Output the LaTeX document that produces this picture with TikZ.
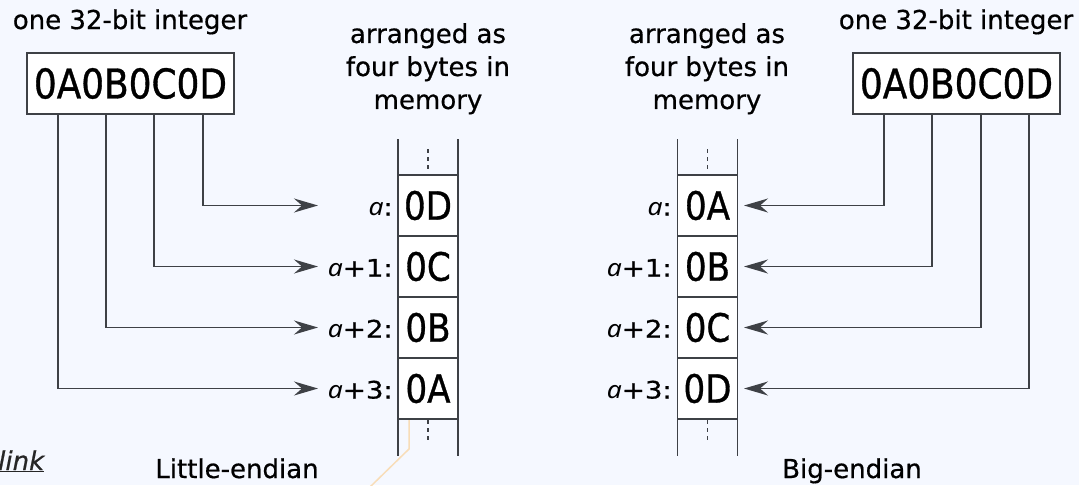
\documentclass[tikz,border=0pt]{standalone}
\usepackage{fontspec}
\setmainfont{DejaVu Sans}[FakeBold=0.6]
\newfontfamily\hexfont{DejaVu Sans}[FakeStretch=0.875, FakeBold=0.8]
\newfontfamily\labfont{DejaVu Sans}[FakeStretch=1.15, FakeBold=0.6]
\newfontfamily\afont{Noto Sans}[UprightFont=* Italic, FakeStretch=1.1]
\usetikzlibrary{arrows.meta}
\definecolor{bg}{HTML}{F5F8FF}
\definecolor{ln}{HTML}{3E4146}
\definecolor{org}{HTML}{F8DDB8}
\newcommand{\va}{{\afont a}}
\begin{document}
\begin{tikzpicture}[x=1pt,y=-1pt,
  txt/.style={font=\fontsize{26}{33}\selectfont, align=center, inner sep=0},
  hexbox/.style={draw=ln, line width=1.8pt, fill=white, font=\hexfont\fontsize{41}{41}\selectfont, minimum width=207pt, minimum height=61pt, inner sep=0},
  cell/.style={draw=ln, line width=1.8pt, fill=white, font=\hexfont\fontsize{39}{39}\selectfont, minimum width=60pt, minimum height=61pt, inner sep=0, outer sep=0},
  lab/.style={font=\labfont\fontsize{24}{24}\selectfont, anchor=base east, inner sep=0},
  wire/.style={draw=ln, line width=1.8pt},
  dots/.style={draw=ln, line width=1.3pt, dash pattern=on 4pt off 4pt},
  arr/.style={wire, -{Stealth[length=24pt,width=14pt,inset=8pt]}}
]
\useasboundingbox (0,0) rectangle (1079,485);
\fill[bg] (0,0) rectangle (1079,485);
\clip (0,0) rectangle (1079,485);

% ---------- texts
\node[txt, anchor=base] (intL) at (130,29) {one 32-bit integer};
\node[txt, anchor=base] (intR) at (956,29) {one 32-bit integer};
\node[txt, anchor=north] (memL) at (428,23) {arranged as\\four bytes in\\memory};
\node[txt, anchor=north] (memR) at (707,23) {arranged as\\four bytes in\\memory};
\node[txt, anchor=base] (little) at (237,478) {Little-endian};
\node[txt, anchor=base] (big) at (852,478) {Big-endian};
\node[font=\itshape\fontsize{26}{26}\selectfont, anchor=base west, inner sep=0, text=black!85] (link) at (-2,470) {\underline{link}};

% ---------- orange stray line
\draw[org, line width=1.5pt] (409,418) -- (409,449) -- (370,487);

% ---------- integer boxes
\node[hexbox] (hexL) at (130.5,83.5) {0A0B0C0D};
\node[hexbox] (hexR) at (956.5,83.5) {0A0B0C0D};

% ---------- left memory column
\node[cell] (L0) at (428,205.5) {0D};
\node[cell] (L1) at (428,266.5) {0C};
\node[cell] (L2) at (428,327.5) {0B};
\node[cell] (L3) at (428,388.5) {0A};
\draw[wire] (L0.north west) -- ++(0,-36);
\draw[wire] (L0.north east) -- ++(0,-36);
\draw[wire] (L3.south west) -- ++(0,37);
\draw[wire] (L3.south east) -- ++(0,37);
\draw[dots] (428,149) -- (428,172);
\draw[dots] (428,420) -- (428,443);

% ---------- right memory column
\node[cell] (R0) at (707.5,205.5) {0A};
\node[cell] (R1) at (707.5,266.5) {0B};
\node[cell] (R2) at (707.5,327.5) {0C};
\node[cell] (R3) at (707.5,388.5) {0D};
\draw[wire] (R0.north west) -- ++(0,-36);
\draw[wire] (R0.north east) -- ++(0,-36);
\draw[wire] (R3.south west) -- ++(0,37);
\draw[wire] (R3.south east) -- ++(0,37);
\draw[dots] (707.5,149) -- (707.5,172);
\draw[dots] (707.5,420) -- (707.5,443);

% ---------- address labels
\node[lab] (la0) at (393,215.5) {\va:};
\node[lab] (la1) at (393,276.5) {\va+1:};
\node[lab] (la2) at (393,337.5) {\va+2:};
\node[lab] (la3) at (393,398.5) {\va+3:};
\node[lab] (ra0) at (672,215.5) {\va:};
\node[lab] (ra1) at (672,276.5) {\va+1:};
\node[lab] (ra2) at (672,337.5) {\va+2:};
\node[lab] (ra3) at (672,398.5) {\va+3:};

% ---------- arrow end points
\coordinate (eL0) at (318,205.5);
\coordinate (eL1) at (318,266.5);
\coordinate (eL2) at (318,327.5);
\coordinate (eL3) at (318,388.5);
\coordinate (eR0) at (744,205.5);
\coordinate (eR1) at (744,266.5);
\coordinate (eR2) at (744,327.5);
\coordinate (eR3) at (744,388.5);

% ---------- connectors, little-endian
\draw[arr] (hexL.south -| 203,0) |- (eL0);
\draw[arr] (hexL.south -| 154,0) |- (eL1);
\draw[arr] (hexL.south -| 106,0) |- (eL2);
\draw[arr] (hexL.south -| 58,0) |- (eL3);

% ---------- connectors, big-endian
\draw[arr] (hexR.south -| 884,0) |- (eR0);
\draw[arr] (hexR.south -| 932,0) |- (eR1);
\draw[arr] (hexR.south -| 981,0) |- (eR2);
\draw[arr] (hexR.south -| 1029,0) |- (eR3);
\end{tikzpicture}
\end{document}
